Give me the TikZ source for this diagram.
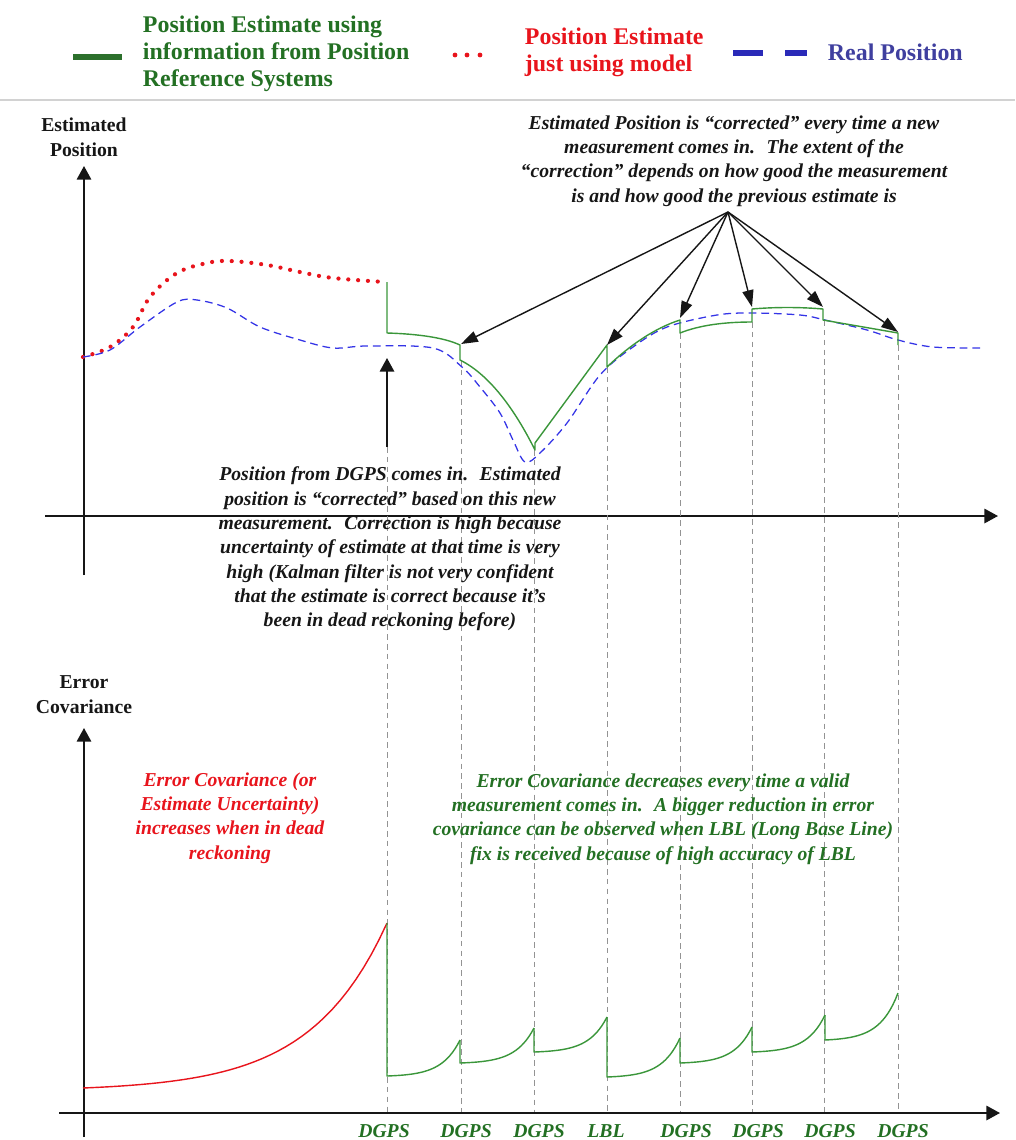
\documentclass[tikz,border=0pt]{standalone}
\usepackage{fontspec}
\setmainfont{Liberation Serif}
\usetikzlibrary{arrows.meta,positioning,calc}
\definecolor{Ink}{HTML}{161616}
\definecolor{FixGreen}{HTML}{237023}
\definecolor{TrackGreen}{HTML}{3A963A}
\definecolor{ModelRed}{HTML}{E8141C}
\definecolor{RealBlue}{HTML}{3434E6}
\definecolor{LabelBlue}{HTML}{3F3F9F}

\begin{document}
\begin{tikzpicture}[x=0.025cm,y=-0.025cm,
  note/.style={font=\bfseries\itshape\fontsize{14}{17.3}\selectfont,align=center},
  axislabel/.style={font=\bfseries\fontsize{14}{17.8}\selectfont,align=center,text=Ink},
  legend/.style={font=\bfseries\fontsize{17}{19.2}\selectfont,align=left,anchor=west},
  bigtip/.style={Ink,line width=1.3pt,-{Triangle[length=3.4mm,width=3.6mm]}},
  fanarrow/.style={Ink,line width=1pt,-{Triangle[length=4.2mm,width=2.8mm]}},
  track/.style={TrackGreen,line width=1pt,line join=round},
  fixline/.style={gray!85,line width=0.7pt,dash pattern=on 4pt off 3pt}]
\useasboundingbox (0,0) rectangle (1015,1140);

% legend
\draw[TrackGreen!75!black,line width=3.8pt] (73,57) -- (122,57);
\node[legend,text=FixGreen] (lgfix) at (138,54) {Position Estimate using\\information from Position\\Reference Systems};
\foreach \x in {455,467,480} \fill[ModelRed] (\x,55) circle (1.7pt);
\node[legend,text=ModelRed] (lgmodel) at (520,52) {Position Estimate\\just using model};
\draw[RealBlue!80!black,line width=3.8pt] (733,53) -- (763,53) (785,53) -- (807,53);
\node[legend,text=LabelBlue] (lgreal) at (823,52) {Real Position};
\draw[gray!35,line width=2pt] (0,100) -- (1015,100);

% estimated position chart
\draw[bigtip] (45,516) -- (998,516);
\draw[bigtip] (84,575) -- (84,166);
\node[axislabel] (poslab) at (84,137) {Estimated\\Position};
\foreach \x/\y/\n in {387/447/1,461/360/2,534/450/3,607/367/4,680/333/5,752/322/6,824/320/7,898/345/8} {
  \coordinate (m\n) at (\x,\y); \coordinate (b\n) at (\x,1113);
  \draw[fixline] (m\n) -- (b\n);}
\draw[ModelRed,line width=3pt,line cap=round,dash pattern=on 0pt off 7pt] plot[smooth,tension=0.6] coordinates {(83,357) (110,347) (133,327) (150,297) (177,273) (207,263) (230,261) (267,265) (300,272) (333,278) (385,282)};
\draw[RealBlue,line width=0.9pt,dash pattern=on 5.5pt off 3.5pt] plot[smooth,tension=0.55] coordinates {(83,357) (110,350) (140,327) (177,302) (197,300) (227,308) (260,327) (300,340) (333,348) (367,346) (433,348) (462,367) (480,387) (500,413) (513,440) (525,462) (540,453) (567,423) (600,375) (633,347) (667,327) (717,315) (752,313) (800,315) (825,320) (867,330) (898,340) (933,347) (983,348)};
\draw[track] (387,282) -- (387,333) .. controls (420,334) and (445,338) .. (460,345) -- (460,360) .. controls (490,375) and (515,410) .. (535,450) -- (535,443) -- (607,345) -- (607,367) .. controls (630,345) and (655,328) .. (680,320) -- (680,333) .. controls (700,325) and (725,322) .. (752,322) -- (752,309) .. controls (775,307) and (800,307) .. (823,309) -- (823,320) -- (898,333) -- (898,345);

% corrections
\node[note,text=Ink] (fixnote) at (734,161) {Estimated Position is “corrected” every time a new\\measurement comes in.~ The extent of the\\“correction” depends on how good the measurement\\is and how good the previous estimate is};
\coordinate (fan) at (728,212);
\foreach \n/\x/\y in {2/461/344,4/607/345,5/680/318,6/752/307,7/823/307,8/898/332} {
  \coordinate (fix\n) at (\x,\y);
  \draw[fanarrow] (fan) -- (fix\n);}
\coordinate (fix1) at (387,358);
\draw[bigtip] (m1) -- (fix1);
\node[note,text=Ink] (dgpsnote) at (390,549) {Position from DGPS comes in.~ Estimated\\position is “corrected" based on this new\\measurement.~ Correction is high because\\uncertainty of estimate at that time is very\\high (Kalman filter is not very confident\\that the estimate is correct because it’s\\been in dead reckoning before)};

% error covariance chart
\draw[bigtip] (59,1113) -- (1000,1113);
\draw[bigtip] (84,1137) -- (84,728);
\node[axislabel] (covlab) at (84,695) {Error\\Covariance};
\draw[ModelRed,line width=1pt] plot[domain=0:1,samples=40,variable=\t] ({83+304*\t},{1088-165*(exp(4*\t)-1)/53.598});
\foreach \xa/\yt/\ya/\xb/\yb in {387/923/1076/460/1040,460/1040/1063/534/1028,534/1028/1052/607/1017,607/1017/1077/680/1038,680/1038/1063/752/1027,752/1027/1052/825/1015,825/1015/1040/898/993}
  \draw[track] (\xa,\yt) -- plot[domain=0:1,samples=30,variable=\t] ({\xa+(\xb-\xa)*\t},{\ya-(\ya-\yb)*(exp(4*\t)-1)/53.598});
\node[note,text=ModelRed] (drnote) at (230,818) {Error Covariance (or\\Estimate Uncertainty)\\increases when in dead\\reckoning};
\node[note,text=FixGreen] (covnote) at (663,819) {Error Covariance decreases every time a valid\\measurement comes in.~ A bigger reduction in error\\covariance can be observed when LBL (Long Base Line)\\fix is received because of high accuracy of LBL};
\foreach \x/\s/\n in {384/DGPS/1,466/DGPS/2,539/DGPS/3,606/LBL/4,686/DGPS/5,758/DGPS/6,830/DGPS/7,903/DGPS/8}
  \node[note,text=FixGreen,anchor=base,inner sep=0pt] (src\n) at (\x,1137) {\s};
\end{tikzpicture}
\end{document}
